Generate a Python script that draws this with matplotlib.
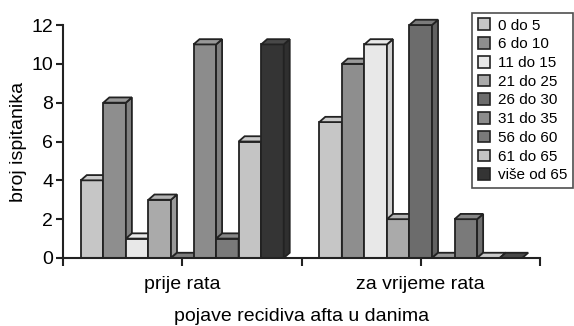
import matplotlib
matplotlib.use("Agg")
import matplotlib.pyplot as plt
from matplotlib.patches import Polygon, Patch
import numpy as np

plt.rcParams['font.family'] = ['Liberation Sans', 'DejaVu Sans']

groups = ["prije rata", "za vrijeme rata"]
series = ["0 do 5", "6 do 10", "11 do 15", "21 do 25", "26 do 30",
          "31 do 35", "56 do 60", "61 do 65", "više od 65"]
prije_rata = [4, 8, 1, 3, 0, 11, 1, 6, 11]
za_vrijeme_rata = [7, 10, 11, 2, 12, 0, 2, 0, 0]
colors = ["#c6c6c6", "#8e8e8e", "#e8e8e8", "#aaaaaa", "#6c6c6c",
          "#8c8c8c", "#7a7a7a", "#c4c4c4", "#343434"]
yticks = [0, 2, 4, 6, 8, 10, 12]

values = np.array([prije_rata, za_vrijeme_rata])

def shade(c, f):
    rgb = np.array(matplotlib.colors.to_rgb(c))
    if f > 1:
        rgb = rgb + (1 - rgb) * (f - 1)
    else:
        rgb = rgb * f
    return tuple(np.clip(rgb, 0, 1))

fig = plt.figure(figsize=(5.74, 3.26), dpi=100)
ax = fig.add_axes([63/574, 68/326, (540-63)/574, (258-25)/326])
ax.set_xlim(-0.5, 1.5)
ax.set_ylim(0, 12)

n = len(series)
w = 22.5/238
dx = 6/238
dy = 0.27
start = -n*w/2

z = 2
for g in range(len(groups)):
    for i in range(n):
        v = values[g, i]
        x0 = g + start + i*w
        x1 = x0 + w
        c = colors[i]
        lw = 1.3
        if v > 0:
            ax.bar(x0, v, width=w, align='edge', color=c, edgecolor='#222222',
                   linewidth=lw, zorder=z, clip_on=False)
            side = Polygon([[x1, 0], [x1+dx, dy], [x1+dx, v+dy], [x1, v]],
                           closed=True, facecolor=shade(c, 0.9), edgecolor='#222222',
                           linewidth=lw, zorder=z, clip_on=False)
            ax.add_patch(side)
        top = Polygon([[x0, v], [x0+dx, v+dy], [x1+dx, v+dy], [x1, v]],
                      closed=True, facecolor=shade(c, 1.1), edgecolor='#222222',
                      linewidth=lw, zorder=z, clip_on=False)
        ax.add_patch(top)
        z += 1

ax.spines['top'].set_visible(False)
ax.spines['right'].set_visible(False)
for s in ['left', 'bottom']:
    ax.spines[s].set_linewidth(1.5)
    ax.spines[s].set_color('#222222')
    ax.spines[s].set_zorder(100)

fs = 14
ax.set_yticks(yticks)
ax.set_yticklabels([str(t) for t in yticks], fontsize=fs)
ax.tick_params(axis='y', length=5, width=1.5, color='#222222', pad=2)

ax.set_xticks([-0.5, 0.5, 1.5])
ax.set_xticks([0, 1], minor=True)
ax.set_xticklabels([])
ax.set_xticklabels(groups, minor=True, fontsize=fs)
ax.tick_params(axis='x', which='both', length=6, width=1.5, color='#222222', pad=7)

ax.set_ylabel("broj ispitanika", fontsize=fs, labelpad=3)
ax.set_xlabel("pojave recidiva afta u danima", fontsize=fs, labelpad=11)

handles = [Patch(facecolor=c, edgecolor='#222222', linewidth=1.2) for c in colors]
leg = fig.legend(handles, series, loc='upper right', bbox_to_anchor=(573/574, 1 - 13/326),
                 fontsize=11, frameon=True, fancybox=False, edgecolor='#222222',
                 handlelength=0.8, handleheight=0.8, handletextpad=0.55,
                 labelspacing=0.3, borderpad=0.35, borderaxespad=0)
leg.get_frame().set_linewidth(1.2)

fig.savefig("out.png", dpi=100)
